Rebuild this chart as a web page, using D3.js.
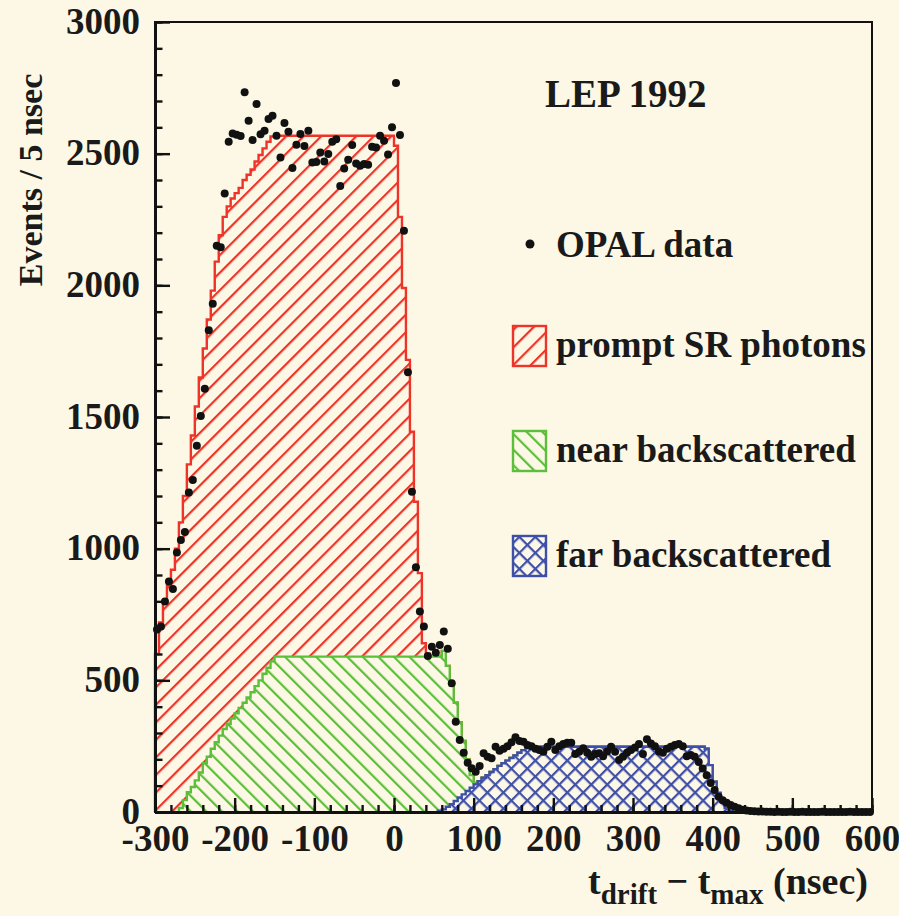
<!DOCTYPE html>
<html>
<head>
<meta charset="utf-8">
<script src="https://cdn.jsdelivr.net/npm/d3@7"></script>
<style>
  html, body { margin: 0; padding: 0; background: #fcf8e5; }
  svg { display: block; }
  text { font-family: "Liberation Serif", "Times New Roman", serif; font-weight: bold; fill: #1a1a1a; }
</style>
</head>
<body>
<div id="chart"></div>
<script>
// bin width of the histograms (nsec)
const binWidth = 5;

// prompt SR photons, bins from -300 ns
const promptStart = -300;
const promptSR = [600, 720, 800, 860, 920, 1000,
  1085, 1155, 1245, 1335, 1420, 1500, 1575, 1660, 1740, 1825,
  1900, 1945, 1965, 1975, 1975, 1975, 1985, 1985, 1985, 1992,
  1995, 1995, 1997, 1993,
  1978, 1978, 1978, 1978, 1978, 1978, 1978, 1978, 1978, 1978,
  1978, 1978, 1978, 1978, 1978, 1978, 1978, 1978, 1978, 1978,
  1978, 1978, 1978, 1978, 1978, 1978, 1978, 1978, 1978, 1978,
  1940, 1670, 1400, 1127, 854, 588, 317, 51, 10];

// near backscattered, bins from -270 ns
const nearStart = -270;
const nearBack = [15, 45, 75, 95, 120, 150, 185, 210, 240, 265, 290, 315, 335,
  355, 375, 395, 415, 435, 455, 478, 500, 525, 548, 572, 590,
  590, 590, 590, 590, 590, 590, 590, 590, 590, 590,
  590, 590, 590, 590, 590, 590, 590, 590, 590, 590,
  590, 590, 590, 590, 590, 590, 590, 590, 590, 590,
  590, 590, 590, 590, 590, 590, 590, 590, 590, 590,
  585, 602, 535, 450, 373, 285, 203, 120, 48, 5];

// far backscattered, bins from 55 ns
const farStart = 55;
const farBack = [5, 10, 20, 30, 42, 55, 67, 80, 92, 105, 117, 130, 140, 152,
  163, 175, 185, 195, 205, 215, 225, 235, 242, 248,
  248, 248, 248, 248, 248, 248, 248, 248, 248, 248, 248,
  248, 248, 248, 248, 248, 248, 248, 248, 248, 248, 248,
  248, 248, 248, 248, 248, 248, 248, 248, 248, 248, 248,
  248, 248, 248, 248, 248, 248, 248, 248, 248, 248,
  240, 178, 115, 72, 39, 15, 5];

// OPAL data, one point per bin, first bin centre -297.5 ns
const dataStart = -297.5;
const opalData = [
  693, 704, 799, 875, 847, 985, 1033, 1063, 1213, 1261,
  1391, 1504, 1607, 1829, 1930, 2150, 2145, 2349, 2545, 2577,
  2572, 2567, 2733, 2625, 2552, 2689, 2574, 2587, 2632, 2644,
  2568, 2485, 2616, 2583, 2446, 2534, 2575, 2529, 2587, 2466,
  2468, 2504, 2470, 2499, 2545, 2555, 2377, 2444, 2477, 2533,
  2463, 2454, 2461, 2458, 2526, 2523, 2568, 2549, 2497, 2600,
  2768, 2571, 2207, 1670, 1216, 929, 761, 704, 592, 628,
  605, 634, 685, 620, 489, 343, 273, 225, 187, 166,
  153, 175, 223, 210, 204, 248, 233, 240, 250, 265,
  284, 270, 267, 254, 250, 240, 235, 229, 248, 267,
  235, 250, 258, 263, 263, 220, 229, 242, 225, 210,
  220, 223, 212, 230, 248, 229, 197, 210, 225, 235,
  245, 258, 220, 276, 260, 250, 230, 225, 240, 248,
  254, 258, 250, 212, 216, 210, 190, 165, 140, 110,
  84, 58, 45, 35, 27, 20, 14, 9, 6, 4,
  3, 2, 2, 1, 1, 0, 1, 0, 0, 1,
  0, 0, 1, 0, 0, 0, 0, 1, 0, 0,
  0, 0, 0, 0, 1, 0, 0, 0, 0, 0];

const xTicks = [-300, -200, -100, 0, 100, 200, 300, 400, 500, 600];
const yTicks = [0, 500, 1000, 1500, 2000, 2500, 3000];
const legendItems = ["prompt SR photons", "near backscattered", "far backscattered"];

const W = 899, H = 916;
const bg = "#fcf8e5";
const colRed = "#ee3328", colGreen = "#5cbf3a", colBlue = "#3f4fa8";

const svg = d3.select("#chart").append("svg")
  .attr("width", W).attr("height", H);
svg.append("rect").attr("width", W).attr("height", H).attr("fill", bg);

const x = d3.scaleLinear().domain([-300, 600]).range([155, 872]);
const y = d3.scaleLinear().domain([0, 3000]).range([812, 22]);

// hatch patterns
const defs = svg.append("defs");
function hatch(id, color, step, angle, cross) {
  const p = defs.append("pattern").attr("id", id)
    .attr("patternUnits", "userSpaceOnUse")
    .attr("width", step).attr("height", step)
    .attr("patternTransform", "rotate(" + angle + ")");
  p.append("rect").attr("width", step).attr("height", step).attr("fill", bg);
  p.append("rect").attr("x", 0).attr("y", 0).attr("width", 2.2).attr("height", step).attr("fill", color);
  if (cross) p.append("rect").attr("x", 0).attr("y", 0).attr("width", step).attr("height", 2.2).attr("fill", color);
}
hatch("hRed", colRed, 12.4, 45, false);
hatch("hGreen", colGreen, 11, -45, false);
hatch("hBlue", colBlue, 11.3, 45, true);

// build the stacked table
function at(arr, start, b) {
  const k = Math.round((b - start) / binWidth);
  return (k >= 0 && k < arr.length) ? arr[k] : 0;
}
const bins = d3.range(-300, 600, binWidth);
const table = bins.map(b => ({
  x: b,
  far: at(farBack, farStart, b),
  near: at(nearBack, nearStart, b),
  prompt: at(promptSR, promptStart, b)
}));
const stacked = d3.stack().keys(["far", "near", "prompt"])(table);

const area = d3.area().x(d => x(d.x)).y0(y(0)).y1(d => y(d.y)).curve(d3.curveStepAfter);
const line = d3.line().x(d => x(d.x)).y(d => y(d.y)).curve(d3.curveStepAfter);

const layers = [
  {s: stacked[2], fill: "url(#hRed)", col: colRed},
  {s: stacked[1], fill: "url(#hGreen)", col: colGreen},
  {s: stacked[0], fill: "url(#hBlue)", col: colBlue}
];
layers.forEach(L => {
  const tops = L.s.map((d, i) => ({x: bins[i], y: d[1]}));
  let first = tops.findIndex(d => d.y > 0);
  let last = tops.length - 1;
  while (last > 0 && tops[last].y <= 0) last--;
  const pts = [{x: tops[first].x, y: 0}].concat(tops.slice(first, last + 1), [{x: tops[last].x + binWidth, y: 0}]);
  svg.append("path").attr("d", area(pts)).attr("fill", L.fill);
  svg.append("path").attr("d", line(pts)).attr("fill", "none")
    .attr("stroke", L.col).attr("stroke-width", 2.4);
});

// data points
svg.append("g").selectAll("circle")
  .data(opalData)
  .enter().append("circle")
  .attr("cx", (d, i) => x(dataStart + i * binWidth))
  .attr("cy", d => y(d))
  .attr("r", 4)
  .attr("fill", "#111");

// frame
svg.append("rect").attr("x", 155).attr("y", 22).attr("width", 717).attr("height", 790)
  .attr("fill", "none").attr("stroke", "#111").attr("stroke-width", 2);

// axes (ticks point inwards)
const yMinor = d3.range(0, 3001, 100);
const xMinor = d3.range(-300, 601, 20);
const plain = d => String(d);
svg.append("g").attr("transform", "translate(155,0)")
  .call(d3.axisLeft(y).tickValues(yMinor).tickSize(-7.5).tickSizeOuter(0).tickFormat(""));
svg.append("g").attr("transform", "translate(155,0)").attr("class", "yaxis")
  .call(d3.axisLeft(y).tickValues(yTicks).tickSize(-15).tickSizeOuter(0).tickPadding(15).tickFormat(plain));
svg.append("g").attr("transform", "translate(0,812)")
  .call(d3.axisBottom(x).tickValues(xMinor).tickSize(-7).tickSizeOuter(0).tickFormat(""));
svg.append("g").attr("transform", "translate(0,812)").attr("class", "xaxis")
  .call(d3.axisBottom(x).tickValues(xTicks).tickSize(-14).tickSizeOuter(0).tickPadding(13).tickFormat(plain));

svg.selectAll(".domain").attr("stroke", "#111").attr("stroke-width", 3);
svg.selectAll(".tick line").attr("stroke", "#111").attr("stroke-width", 2.4);
svg.selectAll(".yaxis text, .xaxis text")
  .style("font-family", "'Liberation Serif', 'Times New Roman', serif")
  .style("font-weight", "bold").style("font-size", "37px").attr("fill", "#1a1a1a");
svg.selectAll(".yaxis text").attr("dy", "0.30em");

// axis titles
svg.append("text").attr("transform", "translate(42,180) rotate(-90)")
  .attr("text-anchor", "middle").style("font-size", "34px").text("Events / 5 nsec");

const xt = svg.append("text").attr("x", 868).attr("y", 894)
  .attr("text-anchor", "end").style("font-size", "38px");
xt.append("tspan").text("t");
xt.append("tspan").attr("dy", 10).style("font-size", "29px").text("drift");
xt.append("tspan").attr("dy", -10).text(" \u2212 t");
xt.append("tspan").attr("dy", 10).style("font-size", "29px").text("max");
xt.append("tspan").attr("dy", -10).text(" (nsec)");

svg.append("text").attr("x", 545).attr("y", 107).style("font-size", "39px").text("LEP 1992");

// legend
svg.append("circle").attr("cx", 530).attr("cy", 244).attr("r", 4.5).attr("fill", "#111");
svg.append("text").attr("x", 556).attr("y", 257).style("font-size", "37px").text("OPAL data");

const legFills = ["url(#hRed)", "url(#hGreen)", "url(#hBlue)"];
const legCols = [colRed, colGreen, colBlue];
const legY = [326, 431, 536];
legendItems.forEach((name, i) => {
  svg.append("rect").attr("x", 513).attr("y", legY[i]).attr("width", 33).attr("height", 40)
    .attr("fill", legFills[i]).attr("stroke", legCols[i]).attr("stroke-width", 2.4);
  svg.append("text").attr("x", 556).attr("y", legY[i] + 31).style("font-size", "37px").text(name);
});
</script>
</body>
</html>
